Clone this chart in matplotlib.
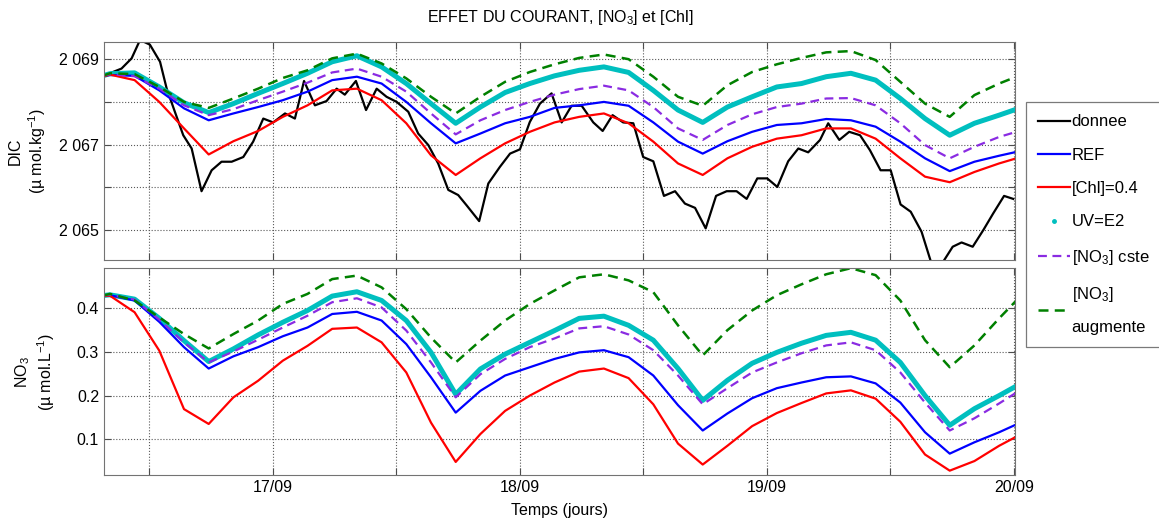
import numpy as np
import matplotlib
matplotlib.use('Agg')  # headless
import matplotlib.pyplot as plt
from matplotlib.lines import Line2D
from matplotlib.ticker import FuncFormatter

plt.rcParams['font.family'] = ['Liberation Sans', 'DejaVu Sans']
plt.rcParams['mathtext.fontset'] = 'custom'
plt.rcParams['mathtext.rm'] = 'Liberation Sans'
plt.rcParams['mathtext.it'] = 'Liberation Sans:italic'

# ─── Data (days of September) ────────────────────────────────────────────────
t_model = [16.31, 16.34, 16.44, 16.54, 16.64, 16.74, 16.84, 16.94, 17.04, 17.14,
           17.24, 17.34, 17.44, 17.54, 17.64, 17.74, 17.84, 17.94, 18.04, 18.14,
           18.24, 18.34, 18.44, 18.54, 18.64, 18.74, 18.84, 18.94, 19.04, 19.14,
           19.24, 19.34, 19.44, 19.54, 19.64, 19.74, 19.84, 19.94, 20.01]

# DIC (µmol/kg)
dic_ref = [2068.61, 2068.63, 2068.61, 2068.27, 2067.85, 2067.57, 2067.73, 2067.88, 2068.04, 2068.24,
           2068.51, 2068.59, 2068.43, 2068.00, 2067.50, 2067.03, 2067.26, 2067.50, 2067.65, 2067.86,
           2067.92, 2068.00, 2067.91, 2067.52, 2067.07, 2066.79, 2067.08, 2067.30, 2067.46, 2067.50,
           2067.60, 2067.57, 2067.42, 2067.07, 2066.68, 2066.38, 2066.60, 2066.74, 2066.83]
dic_chl = [2068.59, 2068.64, 2068.51, 2068.00, 2067.38, 2066.77, 2067.08, 2067.32, 2067.65, 2067.92,
           2068.27, 2068.31, 2068.04, 2067.50, 2066.75, 2066.29, 2066.68, 2067.03, 2067.30, 2067.52,
           2067.65, 2067.73, 2067.50, 2067.07, 2066.56, 2066.29, 2066.68, 2066.95, 2067.14, 2067.22,
           2067.38, 2067.38, 2067.14, 2066.68, 2066.25, 2066.12, 2066.36, 2066.56, 2066.68]
dic_uv = [2068.61, 2068.66, 2068.68, 2068.35, 2067.98, 2067.75, 2067.96, 2068.20, 2068.43, 2068.67,
          2068.94, 2069.08, 2068.82, 2068.43, 2067.96, 2067.50, 2067.88, 2068.22, 2068.43, 2068.61,
          2068.74, 2068.82, 2068.69, 2068.27, 2067.81, 2067.52, 2067.88, 2068.12, 2068.35, 2068.43,
          2068.59, 2068.67, 2068.51, 2068.08, 2067.61, 2067.22, 2067.50, 2067.69, 2067.83]
dic_no3_cste = [2068.61, 2068.65, 2068.60, 2068.31, 2067.92, 2067.69, 2067.83, 2068.04, 2068.24, 2068.45,
                2068.69, 2068.78, 2068.59, 2068.24, 2067.73, 2067.24, 2067.57, 2067.81, 2068.00, 2068.17,
                2068.30, 2068.38, 2068.27, 2067.88, 2067.38, 2067.11, 2067.46, 2067.71, 2067.88, 2067.96,
                2068.08, 2068.09, 2067.92, 2067.50, 2066.99, 2066.68, 2066.95, 2067.18, 2067.30]
dic_no3_aug = [2068.61, 2068.67, 2068.65, 2068.35, 2068.00, 2067.86, 2068.08, 2068.31, 2068.56, 2068.74,
               2069.02, 2069.13, 2068.90, 2068.55, 2068.12, 2067.73, 2068.12, 2068.47, 2068.70, 2068.88,
               2069.03, 2069.11, 2069.00, 2068.59, 2068.12, 2067.91, 2068.39, 2068.70, 2068.88, 2069.03,
               2069.16, 2069.19, 2068.98, 2068.47, 2067.96, 2067.65, 2068.16, 2068.43, 2068.59]

# observed DIC
t_obs = [16.313, 16.387, 16.428, 16.462, 16.502, 16.543, 16.570, 16.603, 16.637, 16.671,
         16.711, 16.752, 16.792, 16.833, 16.880, 16.920, 16.961, 17.001, 17.049, 17.089,
         17.126, 17.170, 17.217, 17.258, 17.291, 17.336, 17.377, 17.420, 17.460, 17.501,
         17.548, 17.588, 17.629, 17.669, 17.710, 17.750, 17.784, 17.835, 17.872, 17.919,
         17.960, 18.000, 18.040, 18.081, 18.128, 18.169, 18.209, 18.250, 18.297, 18.335,
         18.375, 18.418, 18.459, 18.499, 18.540, 18.583, 18.628, 18.668, 18.709, 18.752,
         18.794, 18.837, 18.877, 18.918, 18.961, 19.001, 19.042, 19.086, 19.127, 19.167,
         19.215, 19.248, 19.293, 19.333, 19.377, 19.417, 19.460, 19.501, 19.541, 19.582,
         19.626, 19.667, 19.707, 19.752, 19.788, 19.833, 19.876, 19.916, 19.960, 19.997]
dic_obs = [2068.61, 2068.78, 2069.02, 2069.45, 2069.34, 2068.94, 2068.31, 2067.77, 2067.22, 2066.91,
           2065.91, 2066.40, 2066.60, 2066.60, 2066.71, 2067.07, 2067.61, 2067.52, 2067.73, 2067.61,
           2068.49, 2067.92, 2068.02, 2068.31, 2068.17, 2068.49, 2067.81, 2068.31, 2068.12, 2068.00,
           2067.77, 2067.26, 2066.99, 2066.56, 2065.94, 2065.82, 2065.58, 2065.21, 2066.09, 2066.48,
           2066.79, 2066.89, 2067.53, 2067.96, 2068.20, 2067.52, 2067.91, 2067.91, 2067.52, 2067.32,
           2067.69, 2067.52, 2067.50, 2066.71, 2066.61, 2065.80, 2065.91, 2065.62, 2065.52, 2065.04,
           2065.80, 2065.91, 2065.91, 2065.73, 2066.21, 2066.21, 2066.01, 2066.61, 2066.91, 2066.82,
           2067.11, 2067.50, 2067.11, 2067.30, 2067.22, 2066.87, 2066.40, 2066.40, 2065.60, 2065.43,
           2064.96, 2064.20, 2064.20, 2064.61, 2064.71, 2064.61, 2065.00, 2065.39, 2065.80, 2065.73]

# NO3 (µmol/L)
no3_ref = [0.429, 0.430, 0.418, 0.369, 0.311, 0.262, 0.290, 0.311, 0.336, 0.356,
           0.387, 0.392, 0.372, 0.318, 0.242, 0.161, 0.211, 0.246, 0.265, 0.284,
           0.299, 0.304, 0.288, 0.246, 0.178, 0.120, 0.159, 0.194, 0.217, 0.230,
           0.242, 0.244, 0.228, 0.184, 0.116, 0.067, 0.093, 0.116, 0.134]
no3_chl = [0.428, 0.429, 0.391, 0.303, 0.169, 0.135, 0.196, 0.234, 0.280, 0.314,
           0.353, 0.356, 0.322, 0.253, 0.138, 0.048, 0.112, 0.165, 0.200, 0.230,
           0.255, 0.262, 0.240, 0.180, 0.090, 0.042, 0.085, 0.130, 0.160, 0.183,
           0.205, 0.212, 0.193, 0.140, 0.065, 0.028, 0.050, 0.085, 0.106]
no3_uv = [0.429, 0.431, 0.421, 0.377, 0.326, 0.278, 0.307, 0.339, 0.368, 0.395,
          0.428, 0.438, 0.418, 0.372, 0.299, 0.203, 0.261, 0.295, 0.322, 0.349,
          0.377, 0.382, 0.361, 0.327, 0.262, 0.189, 0.235, 0.274, 0.299, 0.320,
          0.338, 0.345, 0.327, 0.276, 0.200, 0.132, 0.170, 0.200, 0.222]
no3_cste = [0.429, 0.431, 0.420, 0.374, 0.322, 0.276, 0.301, 0.328, 0.356, 0.383,
            0.414, 0.423, 0.402, 0.349, 0.276, 0.196, 0.249, 0.284, 0.311, 0.331,
            0.354, 0.359, 0.340, 0.304, 0.246, 0.180, 0.217, 0.253, 0.276, 0.297,
            0.315, 0.322, 0.304, 0.253, 0.184, 0.120, 0.148, 0.182, 0.207]
no3_aug = [0.429, 0.433, 0.418, 0.379, 0.341, 0.308, 0.341, 0.372, 0.410, 0.433,
           0.467, 0.475, 0.448, 0.398, 0.333, 0.276, 0.326, 0.372, 0.410, 0.441,
           0.471, 0.478, 0.464, 0.437, 0.361, 0.292, 0.350, 0.395, 0.430, 0.455,
           0.478, 0.492, 0.476, 0.418, 0.327, 0.265, 0.315, 0.377, 0.418]

day_ticks = [16.5, 17, 17.5, 18, 18.5, 19, 19.5, 20]
day_labels = ['', '17/09', '', '18/09', '', '19/09', '', '20/09']

# ─── Styles ──────────────────────────────────────────────────────────────────
C_OBS = 'black'
C_REF = '#0000ff'
C_CHL = '#ff0000'
C_UV = '#00bfbf'
C_CSTE = '#8a2be2'
C_AUG = '#008000'
DASH = (0, (4, 2.5))

fig = plt.figure(figsize=(11.59, 5.25), dpi=100)
ax1 = fig.add_axes([0.0897, 0.5048, 0.786, 0.415])
ax2 = fig.add_axes([0.0897, 0.0952, 0.786, 0.394])

ax1.plot(t_obs, dic_obs, color=C_OBS, lw=1.6)
ax1.plot(t_model, dic_uv, color=C_UV, lw=3.6)
ax1.plot(t_model, dic_ref, color=C_REF, lw=1.6)
ax1.plot(t_model, dic_chl, color=C_CHL, lw=1.6)
ax1.plot(t_model, dic_no3_cste, color=C_CSTE, lw=1.6, ls=DASH)
ax1.plot(t_model, dic_no3_aug, color=C_AUG, lw=1.8, ls=DASH)

ax2.plot(t_model, no3_uv, color=C_UV, lw=3.6)
ax2.plot(t_model, no3_ref, color=C_REF, lw=1.6)
ax2.plot(t_model, no3_chl, color=C_CHL, lw=1.6)
ax2.plot(t_model, no3_cste, color=C_CSTE, lw=1.6, ls=DASH)
ax2.plot(t_model, no3_aug, color=C_AUG, lw=1.8, ls=DASH)

for ax in (ax1, ax2):
    ax.set_xlim(16.316, 20.004)
    ax.set_xticks(day_ticks)
    ax.grid(True, color='0.35', ls=':', lw=0.8)
    ax.tick_params(direction='in', top=True, right=True, labelsize=11.5,
                   length=5, color='0.3')
    for sp in ax.spines.values():
        sp.set_color('0.45')

ax1.set_xticklabels([])
ax2.set_xticklabels(day_labels)

ax1.set_ylim(2064.3, 2069.4)
ax1.set_yticks([2065, 2066, 2067, 2068, 2069])
ax1.yaxis.set_major_formatter(FuncFormatter(
    lambda v, p: f"{int(round(v)):,}".replace(',', ' ') if int(round(v)) % 2 else ''))
ax1.set_ylabel('DIC\n(\u00b5 mol.kg$^{-1}$)', fontsize=11.5, labelpad=8)

ax2.set_ylim(0.018, 0.492)
ax2.set_yticks([0.1, 0.2, 0.3, 0.4])
ax2.set_ylabel('NO$_3$\n(\u00b5 mol.L$^{-1}$)', fontsize=11.5, labelpad=14)
ax2.set_xlabel('Temps (jours)', fontsize=11.5, labelpad=6)

fig.suptitle('EFFET DU COURANT, [NO$_3$] et [Chl]', x=0.483, y=0.985, fontsize=11.5)

handles = [
    Line2D([], [], color=C_OBS, lw=1.6),
    Line2D([], [], color=C_REF, lw=1.6),
    Line2D([], [], color=C_CHL, lw=1.6),
    Line2D([], [], color=C_UV, ls='none', marker='.', markersize=5),
    Line2D([], [], color=C_CSTE, lw=1.6, ls=DASH),
    Line2D([], [], color=C_AUG, lw=1.8, ls=DASH),
]
labels = ['donnee', 'REF', '[Chl]=0.4', 'UV=E2', '[NO$_3$] cste', '[NO$_3$]\naugmente']
leg = fig.legend(handles, labels, loc='upper left', bbox_to_anchor=(0.885, 0.806),
                 fontsize=12, frameon=True, fancybox=False, handlelength=1.9,
                 handletextpad=0.1, labelspacing=1.1, borderpad=0.75, borderaxespad=0)
leg.get_frame().set_edgecolor('0.35')
leg.get_frame().set_linewidth(0.9)
leg.get_texts()[-1].set_linespacing(2.3)

fig.savefig('out.png', dpi=100)
